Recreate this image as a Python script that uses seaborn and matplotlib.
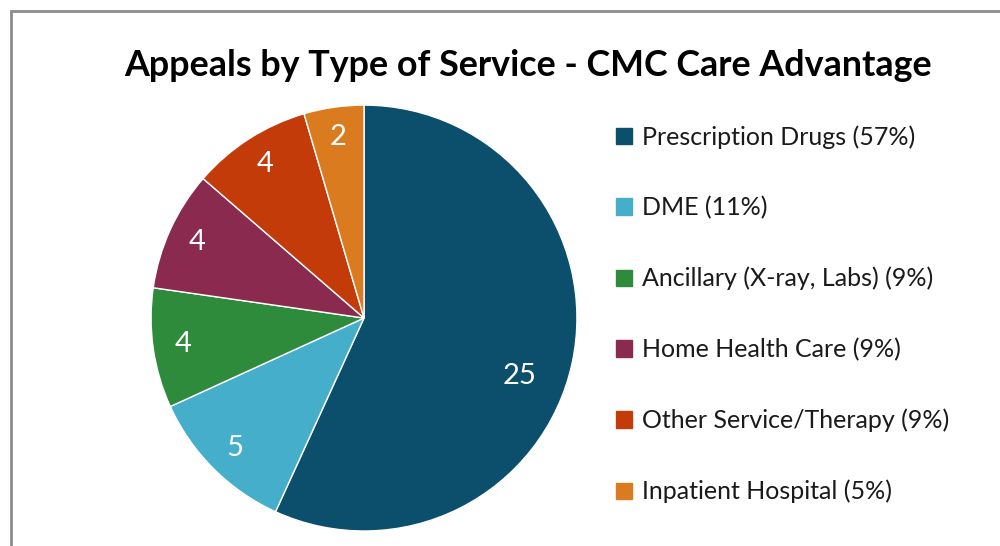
import matplotlib
matplotlib.use("Agg")
import matplotlib.pyplot as plt
import matplotlib.patches as mpatches
import numpy as np
import seaborn as sns

# Data
categories = ["Prescription Drugs", "DME", "Ancillary (X-ray, Labs)",
              "Home Health Care", "Other Service/Therapy", "Inpatient Hospital"]
counts = [25, 5, 4, 4, 4, 2]
percents = [57, 11, 9, 9, 9, 5]
colors = ["#0b4f6c", "#45aecb", "#2e8b3c", "#8a2a4f", "#c43b0a", "#d97b1e"]

sns.set_theme(style="white")
plt.rcParams["font.family"] = ["Lato", "DejaVu Sans"]
palette = sns.color_palette(colors)

fig = plt.figure(figsize=(10, 5.46), dpi=100)
ax = fig.add_axes([0.151, 0.0275, 0.426, 0.780])

wedges, texts = ax.pie(
    counts,
    colors=palette,
    startangle=90,
    counterclock=False,
    labels=[str(c) for c in counts],
    labeldistance=0.86,
    wedgeprops=dict(edgecolor="white", linewidth=1),
    textprops=dict(color="white", fontsize=21, ha="center", va="center"),
)

# the big slice's label sits a bit lower and further in, like the original
w = wedges[0]
ang = np.deg2rad((w.theta1 + w.theta2) / 2 - 8)
texts[0].set_position((0.78 * np.cos(ang), 0.78 * np.sin(ang)))

ax.set_xlim(-1, 1)
ax.set_ylim(-1, 1)
ax.set_aspect("equal")

# title
fig.text(0.528, 1 - 66 / 546, "Appeals by Type of Service - CMC Care Advantage",
         ha="center", va="center", fontsize=25.8, fontweight="bold", color="black")

# legend
handles = [mpatches.Patch(color=palette[i], label=f"{categories[i]} ({percents[i]}%)")
           for i in range(len(categories))]
fig.legend(handles=handles, loc="upper left", bbox_to_anchor=(0.616, 1 - 125 / 546),
           frameon=False, fontsize=18, labelspacing=1.9, handlelength=0.62,
           handleheight=0.62, handletextpad=0.4, borderpad=0, borderaxespad=0,
           labelcolor="#1a1a1a")

# outer frame
fig.patches.append(mpatches.Rectangle((0.011, -0.05), 1.2, 1.05 - 0.0195,
                                      transform=fig.transFigure, fill=False,
                                      edgecolor="#8c8c8c", linewidth=2))

fig.savefig("out.png", dpi=100)
